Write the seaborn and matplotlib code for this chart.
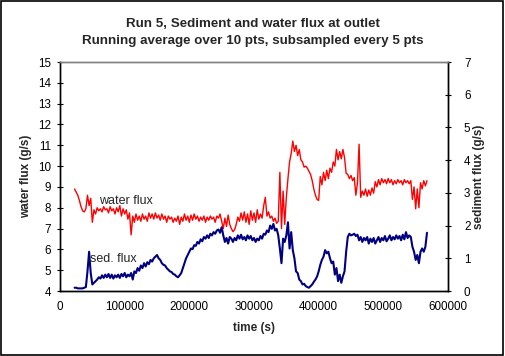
import numpy as np
import pandas as pd
import matplotlib
matplotlib.use("Agg")
import matplotlib.pyplot as plt
import seaborn as sns
from matplotlib.patches import Rectangle

t_start = 22500
t_step = 2500

water_flux = [
    8.9, 8.75, 8.6, 8.35, 8.05, 7.85, 7.8, 7.95, 8.6, 8.1,
    8.45, 7.3, 7.9, 7.7, 8.0, 7.85, 7.95, 7.8, 8.05, 7.9,
    7.95, 7.75, 8.05, 7.85, 7.95, 7.7, 8.0, 7.8, 8.1, 7.6,
    7.95, 7.7, 7.9, 7.45, 7.75, 6.7, 7.6, 7.3, 7.7, 7.4,
    7.6, 7.35, 7.7, 7.45, 7.6, 7.35, 7.75, 7.5, 7.7, 7.45,
    7.75, 7.5, 7.65, 7.4, 7.7, 7.45, 7.6, 7.3, 7.6, 7.45,
    7.55, 7.3, 7.5, 7.35, 7.6, 7.2, 7.55, 7.35, 7.7, 7.4,
    7.6, 7.3, 7.65, 7.4, 7.7, 7.45, 7.6, 7.35, 7.55, 7.4,
    7.6, 7.3, 7.55, 7.4, 7.6, 7.45, 7.55, 7.3, 7.6, 7.5,
    7.7, 7.35, 7.0, 7.5, 7.1, 7.65, 7.2, 7.0, 6.85, 6.95,
    7.2, 7.55, 7.35, 7.75, 7.4, 7.8, 7.3, 7.7, 7.2, 7.85,
    7.4, 7.75, 7.3, 7.9, 7.45, 7.7, 7.5, 8.1, 8.5, 7.6,
    7.8, 7.5, 7.6, 7.35, 7.5, 7.25, 7.35, 9.7, 7.0, 8.8,
    7.2, 8.5, 9.4, 10.2, 10.6, 11.2, 10.7, 11.0, 10.5, 10.8,
    10.3, 10.2, 9.95, 10.0, 9.9, 9.75, 9.6, 9.3, 8.9, 8.6,
    8.4, 8.35, 9.5, 9.1, 9.7, 9.3, 9.8, 9.4, 9.9, 9.7,
    10.2, 10.0, 10.8, 10.3, 10.7, 10.35, 10.8, 10.4, 9.65, 9.6,
    9.4, 9.55, 9.3, 9.45, 8.6, 9.2, 11.05, 8.5, 8.8, 8.6,
    8.9, 8.55, 8.85, 8.6, 8.95, 8.7, 9.25, 9.0, 9.35, 9.1,
    9.4, 9.2, 9.35, 9.15, 9.4, 9.2, 9.35, 9.1, 9.3, 9.15,
    9.35, 9.2, 9.3, 9.1, 9.35, 9.2, 9.3, 9.15, 9.3, 8.4,
    9.0, 7.95, 8.9, 8.0, 9.2, 8.9, 9.3, 9.05, 9.3,
]

sed_flux = [
    0.1, 0.1, 0.08, 0.08, 0.08, 0.08, 0.1, 0.12, 0.6, 1.2,
    0.55, 0.2, 0.25, 0.3, 0.35, 0.42, 0.38, 0.48, 0.4, 0.5,
    0.42, 0.52, 0.4, 0.5, 0.38, 0.48, 0.42, 0.5, 0.4, 0.52,
    0.45, 0.55, 0.42, 0.5, 0.45, 0.55, 0.35, 0.6, 0.55, 0.7,
    0.62, 0.78, 0.7, 0.85, 0.75, 0.88, 0.82, 0.95, 0.9, 1.0,
    1.05, 1.1, 1.0, 0.95, 0.85, 0.8, 0.78, 0.7, 0.65, 0.6,
    0.58, 0.52, 0.5, 0.45, 0.42, 0.48, 0.55, 0.7, 0.85, 1.0,
    1.1, 1.2, 1.3, 1.28, 1.4, 1.38, 1.5, 1.45, 1.58, 1.52,
    1.65, 1.6, 1.7, 1.62, 1.75, 1.7, 1.8, 1.75, 1.85, 1.88,
    1.78, 1.95, 1.7, 1.5, 1.62, 1.45, 1.65, 1.6, 1.5, 1.62,
    1.55, 1.7, 1.6, 1.72, 1.58, 1.65, 1.55, 1.7, 1.6, 1.68,
    1.55, 1.62, 1.5, 1.6, 1.55, 1.68, 1.6, 1.75, 1.72, 1.85,
    1.8, 2.0, 1.9, 2.05, 1.85, 1.9, 1.7, 1.3, 0.85, 1.6,
    1.5, 1.7, 2.1, 1.3, 1.8, 1.25, 1.0, 0.6, 0.55, 0.35,
    0.3, 0.2, 0.22, 0.15, 0.12, 0.1, 0.15, 0.2, 0.28, 0.35,
    0.44, 0.6, 0.8, 0.95, 1.05, 1.25, 1.15, 1.2, 1.0, 0.85,
    0.9, 0.5, 0.7, 0.3, 0.5, 0.25, 0.45, 0.6, 1.2, 1.65,
    1.75, 1.7, 1.72, 1.75, 1.68, 1.72, 1.55, 1.65, 1.5, 1.62,
    1.55, 1.65, 1.45, 1.6, 1.5, 1.62, 1.45, 1.55, 1.65, 1.5,
    1.62, 1.55, 1.68, 1.52, 1.6, 1.7, 1.55, 1.65, 1.58, 1.7,
    1.6, 1.68, 1.55, 1.72, 1.58, 1.8, 1.62, 1.7, 1.65, 1.35,
    1.2, 0.95, 1.1, 0.85, 1.2, 1.3, 1.2, 1.35, 1.78,
]

x_ticks = [0, 100000, 200000, 300000, 400000, 500000, 600000]
x_tick_labels = ["0", "100000", "200000", "300000", "400000", "500000", "600000"]

time_s = t_start + t_step * np.arange(len(water_flux))
df = pd.DataFrame({"time": time_s, "water": water_flux, "sed": sed_flux})

sns.set_style("white")
plt.rcParams["font.family"] = ["Liberation Sans", "DejaVu Sans"]

fig = plt.figure(figsize=(5.05, 3.56), dpi=100)
ax = fig.add_axes([60 / 505, 1 - 291 / 356, 388 / 505, 229 / 356])
ax2 = ax.twinx()

sns.lineplot(data=df, x="time", y="water", ax=ax, color="#ff0000", linewidth=1.0)
sns.lineplot(data=df, x="time", y="sed", ax=ax2, color="#000080", linewidth=1.5)

ax.set_xlim(0, 600000)
ax.set_ylim(4, 15)
ax2.set_ylim(0, 7)
ax.set_yticks(range(4, 16))
ax2.set_yticks(range(0, 8))
ax.set_xticks(x_ticks)
ax.set_xticklabels(x_tick_labels)

for a in (ax, ax2):
    for side in ("left", "right", "bottom"):
        a.spines[side].set_color("black")
        a.spines[side].set_linewidth(1.0)
    a.spines["top"].set_color("#808080")
    a.spines["top"].set_linewidth(1.0)
    a.tick_params(direction="inout", length=5, width=0.8, labelsize=8.4, colors="black")
ax.tick_params(axis="x", pad=5)
ax.tick_params(axis="y", pad=4)
ax2.tick_params(axis="y", pad=9)
ax2.patch.set_visible(False)
ax.set_facecolor("white")

ax.set_xlabel("time (s)", fontsize=8.5, fontweight="bold", labelpad=6)
ax.set_ylabel("water flux (g/s)", fontsize=8.5, fontweight="bold", labelpad=4)
ax2.set_ylabel("sediment flux (g/s)", fontsize=8.5, fontweight="bold", labelpad=2)

ax.text(60000, 8.33, "water flux", fontsize=9, va="center", ha="left")
ax.text(47000, 5.54, "sed. flux", fontsize=9, va="center", ha="left")

fig.text(253 / 505, 1 - 24 / 356, "Run 5, Sediment and water flux at outlet",
         ha="center", va="center", fontsize=9.6, fontweight="bold")
fig.text(253 / 505, 1 - 41 / 356, "Running average over 10 pts, subsampled every 5 pts",
         ha="center", va="center", fontsize=9.6, fontweight="bold")

fig.patches.append(Rectangle((0.001, 0.002), 0.996, 0.995, transform=fig.transFigure,
                             fill=False, edgecolor="black", linewidth=1.2))

fig.savefig("out.png", dpi=100)
